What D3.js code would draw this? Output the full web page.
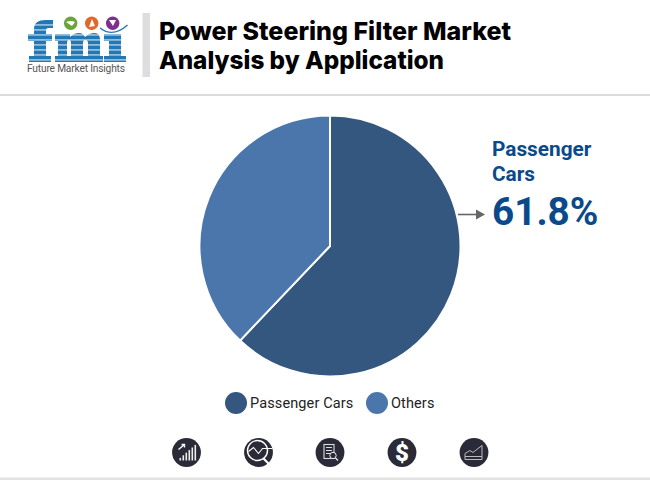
<!DOCTYPE html>
<html>
<head>
<meta charset="utf-8">
<script src="https://cdnjs.cloudflare.com/ajax/libs/d3/7.8.5/d3.min.js"></script>
<style>
html, body { margin: 0; padding: 0; background: #fff; }
svg { display: block; }
text { font-family: Roboto, sans-serif; }
</style>
</head>
<body>
<svg id="chart" width="650" height="480"></svg>
<script>
const categories = ["Passenger Cars", "Others"];
const shares = [62.1, 37.9];
const colors = ["#34577f", "#4a76ab"];
const titleLines = ["Power Steering Filter Market", "Analysis by Application"];
const calloutLines = ["Passenger", "Cars"];
const calloutValue = "61.8%";

const svg = d3.select("#chart");

// page frame
svg.append("rect").attr("x", 0).attr("y", 94).attr("width", 650).attr("height", 2).attr("fill", "#dcdcdc");
svg.append("rect").attr("x", 0).attr("y", 477.5).attr("width", 650).attr("height", 2.5).attr("fill", "#e2e2e2");
svg.append("rect").attr("x", 142.5).attr("y", 13).attr("width", 7.5).attr("height", 64).attr("fill", "#dddddd");

const titleWidths = [352, 285];
svg.selectAll(".title").data(titleLines).join("text")
    .attr("class", "title")
    .attr("x", 159)
    .attr("y", (d, i) => 39.5 + i * 29.5)
    .attr("font-size", 25)
    .attr("font-weight", 800)
    .attr("textLength", (d, i) => titleWidths[i])
    .attr("lengthAdjust", "spacingAndGlyphs")
    .style("font-family", "Inter, sans-serif")
    .attr("fill", "#000")
    .text(d => d);

// logo, letters are plain paths cut by white stripes
const logo = svg.append("g");
const logoBlue = "#2278b5";
const fmiShapes = [
    "M28 34H34V29Q34 20 46 20H53V28H48Q46 28 46 31V34H52V41H46V56H51V62H29V56H34V41H28Z",
    "M55 34H70V37Q74 33 79 33Q83 33 85 37Q89 33 95 33Q100 33 100 40V56H103V62H84V56H88V43Q88 40 85 40Q83 40 83 43V56H86V62H68V56H71V43Q71 40 69 40Q67 40 67 43V56H70V62H55V56H58V41H55Z",
    "M104 34H121V56H126V62H104V56H109V41H104Z"
];
logo.selectAll(".letter").data(fmiShapes).join("path")
    .attr("class", "letter").attr("d", d => d).attr("fill", logoBlue);
d3.range(24.5, 62, 5).forEach(y => {
    logo.append("rect").attr("x", 26).attr("y", y).attr("width", 102).attr("height", 0.9).attr("fill", "#fff");
});
logo.selectAll(".dot").data(["#6aa53a", "#e2672a", "#7d2f8e"]).join("circle")
    .attr("class", "dot")
    .attr("cx", (d, i) => 70.7 + i * 21).attr("cy", 23.3).attr("r", 6.7).attr("fill", d => d);
logo.append("path").attr("d", "M66 22Q71 20 75 22L72 26Z").attr("fill", "#fff");
logo.append("path").attr("d", "M89 27L92 19L95 26Z").attr("fill", "#fff");
logo.append("path").attr("d", "M109 20H116L113 26Z").attr("fill", "#fff");
logo.append("path").attr("d", "M100 28Q113 38 127.5 25").attr("fill", "none").attr("stroke", logoBlue).attr("stroke-width", 1.4);
logo.append("text").attr("x", 27).attr("y", 72).attr("font-size", 10.2).attr("fill", "#555")
    .attr("textLength", 98).text("Future Market Insights");

// pie
const pie = d3.pie().sort(null).value(d => d);
const arc = d3.arc().innerRadius(0).outerRadius(130.5);
svg.append("g").attr("transform", "translate(330,246)")
    .selectAll("path").data(pie(shares)).join("path")
    .attr("d", arc)
    .attr("fill", (d, i) => colors[i])
    .attr("stroke", "#fff")
    .attr("stroke-width", 2);

// callout
svg.selectAll(".callout").data(calloutLines).join("text")
    .attr("class", "callout")
    .attr("x", 492)
    .attr("y", (d, i) => 156 + i * 24.5)
    .attr("font-size", 20.8)
    .attr("font-weight", 700)
    .attr("fill", "#0b4a8a")
    .text(d => d);
svg.append("text").attr("x", 492).attr("y", 225)
    .attr("font-size", 38.7).attr("font-weight", 700).attr("fill", "#0b4a8a").text(calloutValue);
svg.append("line").attr("x1", 458).attr("x2", 476).attr("y1", 214.5).attr("y2", 214.5)
    .attr("stroke", "#666").attr("stroke-width", 1.6);
svg.append("path").attr("d", "M476 209.5L485 214.5L476 219.5Z").attr("fill", "#666");

// legend
const legendX = [236, 377];
const legend = svg.selectAll(".legend").data(categories).join("g")
    .attr("class", "legend")
    .attr("transform", (d, i) => `translate(${legendX[i]},403)`);
legend.append("circle").attr("r", 11).attr("fill", (d, i) => colors[i]);
legend.append("text").attr("x", 14).attr("y", 5).attr("font-size", 14.5)
    .attr("letter-spacing", 0.12).attr("fill", "#222").text(d => d);

// bottom icons
const iconX = [186.5, 258.5, 330, 402, 474];
const icons = svg.selectAll(".icon").data(iconX).join("g")
    .attr("class", "icon")
    .attr("transform", d => `translate(${d},452.5)`);
icons.append("circle").attr("r", 14.4).attr("fill", "#2a2a38");

const drawIcon = [
    g => {
        [-7, -4, -1, 2, 5, 8].forEach((x, i) => {
            g.append("rect").attr("x", x).attr("y", 8 - (i + 1) * 2.6).attr("width", 1.6).attr("height", (i + 1) * 2.6).attr("fill", "#eee");
        });
        g.append("path").attr("d", "M-8 -3L-2 -8M-5 -8H-2V-5").attr("fill", "none").attr("stroke", "#fff").attr("stroke-width", 1.4);
    },
    g => {
        g.append("circle").attr("cx", -1).attr("cy", -2).attr("r", 10).attr("fill", "none").attr("stroke", "#fff").attr("stroke-width", 1.4);
        g.append("path").attr("d", "M-10 -1L-5 -5L0 1L4 -4H14").attr("fill", "none").attr("stroke", "#fff").attr("stroke-width", 1.1);
        g.append("path").attr("d", "M5 6L12 13").attr("stroke", "#fff").attr("stroke-width", 2.2);
    },
    g => {
        g.append("rect").attr("x", -6).attr("y", -8).attr("width", 10).attr("height", 14).attr("fill", "none").attr("stroke", "#ddd").attr("stroke-width", 1.1);
        g.append("path").attr("d", "M-4 -5H2M-4 -2H2M-4 1H0").attr("stroke", "#ddd").attr("stroke-width", 1);
        g.append("circle").attr("cx", 3).attr("cy", 3).attr("r", 3.2).attr("fill", "#2a2a38").attr("stroke", "#eee").attr("stroke-width", 1);
        g.append("path").attr("d", "M5.5 5.5L8 8").attr("stroke", "#eee").attr("stroke-width", 1.2);
    },
    g => {
        g.append("text").attr("text-anchor", "middle").attr("y", 8.5).attr("font-size", 24).attr("font-weight", 900).attr("fill", "#fff").text("$");
    },
    g => {
        g.append("path").attr("d", "M-9 1L-4 -2L-1 0L4 -4L8 -7V7H-9Z").attr("fill", "none").attr("stroke", "#bbb").attr("stroke-width", 1);
        g.append("path").attr("d", "M-9 4H8").attr("stroke", "#bbb").attr("stroke-width", 1);
    }
];
icons.each(function(d, i) { drawIcon[i](d3.select(this)); });
</script>
</body>
</html>
